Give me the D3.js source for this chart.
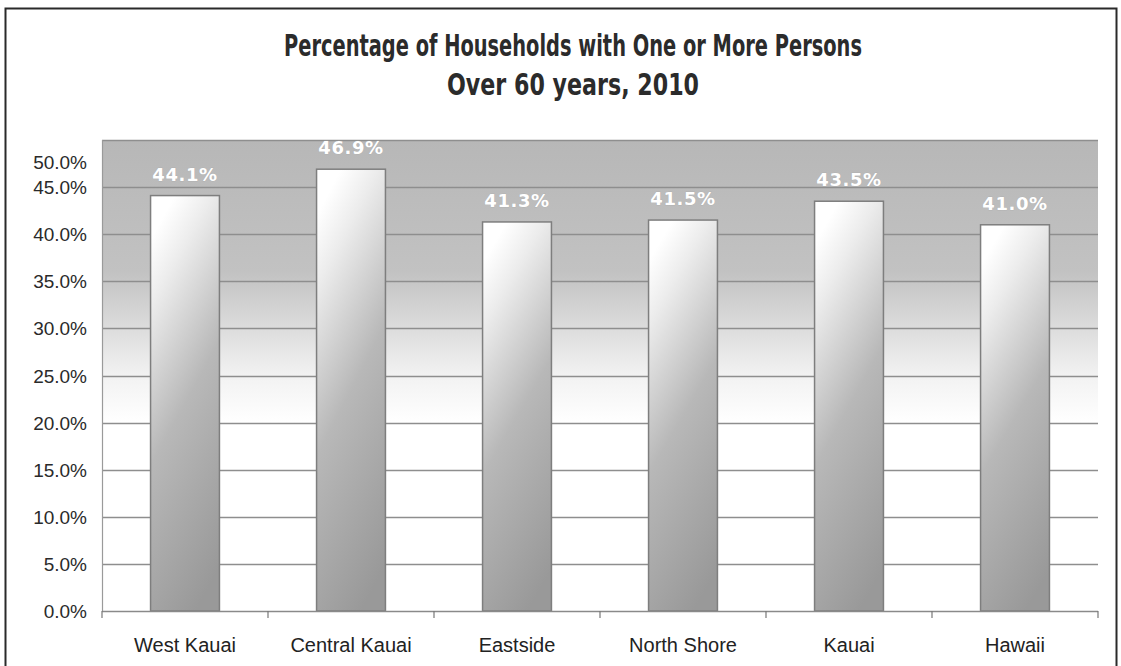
<!DOCTYPE html>
<html>
<head>
<meta charset="utf-8">
<script src="https://cdn.jsdelivr.net/npm/d3@7"></script>
<style>
  html, body { margin: 0; padding: 0; background: #fff; }
  svg { display: block; }
</style>
</head>
<body>
<svg id="chart" width="1121" height="666"></svg>
<script>
// Share of households with one or more persons over 60, 2010
const regions = ["West Kauai", "Central Kauai", "Eastside", "North Shore", "Kauai", "Hawaii"];
const shares = [44.1, 46.9, 41.3, 41.5, 43.5, 41.0];
const yTicks = [0, 5, 10, 15, 20, 25, 30, 35, 40, 45, 50];
const titleLines = ["Percentage of Households with One or More Persons", "Over 60 years, 2010"];

const W = 1121, H = 666;
const margin = { top: 140, right: 23, bottom: 55, left: 102 };
const plotW = W - margin.left - margin.right;
const plotH = H - margin.top - margin.bottom;

const svg = d3.select("#chart");
const defs = svg.append("defs");

// plot background: grey band at top fading to white
const bgGrad = defs.append("linearGradient")
  .attr("id", "bgGrad").attr("x1", 0).attr("y1", 0).attr("x2", 0).attr("y2", 1);
bgGrad.append("stop").attr("offset", "0%").attr("stop-color", "#b7b7b7");
bgGrad.append("stop").attr("offset", "28%").attr("stop-color", "#c2c2c2");
bgGrad.append("stop").attr("offset", "50%").attr("stop-color", "#f2f2f2");
bgGrad.append("stop").attr("offset", "60%").attr("stop-color", "#ffffff");
bgGrad.append("stop").attr("offset", "100%").attr("stop-color", "#ffffff");

// bar fill: near white at the top, grey toward the base
const barGrad = defs.append("linearGradient")
  .attr("id", "barGrad").attr("x1", 0.35).attr("y1", 0).attr("x2", 0.65).attr("y2", 1);
barGrad.append("stop").attr("offset", "0%").attr("stop-color", "#ffffff");
barGrad.append("stop").attr("offset", "15%").attr("stop-color", "#ececec");
barGrad.append("stop").attr("offset", "50%").attr("stop-color", "#b8b8b8");
barGrad.append("stop").attr("offset", "100%").attr("stop-color", "#999999");

// outer frame
svg.append("rect")
  .attr("x", 5.5).attr("y", 8.5).attr("width", 1111).attr("height", 680)
  .attr("fill", "none").attr("stroke", "#2a2a2a").attr("stroke-width", 2);

// title
const title = svg.append("g").attr("font-family", "'Liberation Sans Narrow', 'DejaVu Sans Condensed', sans-serif")
  .attr("font-weight", "bold").attr("fill", "#2b2b2b").attr("text-anchor", "middle");
title.append("text").attr("x", 573).attr("y", 56).attr("font-size", 30)
  .attr("textLength", 578).attr("lengthAdjust", "spacingAndGlyphs").text(titleLines[0]);
title.append("text").attr("x", 573).attr("y", 95).attr("font-size", 30)
  .attr("textLength", 252).attr("lengthAdjust", "spacingAndGlyphs").text(titleLines[1]);

const g = svg.append("g").attr("transform", `translate(${margin.left},${margin.top})`);

const x = d3.scaleBand().domain(regions).range([0, plotW]).paddingInner(0.585).paddingOuter(0.2925);
const y = d3.scaleLinear().domain([0, 50]).range([plotH, 0]);

g.append("rect").attr("x", 0).attr("y", 0).attr("width", plotW).attr("height", plotH)
  .attr("fill", "url(#bgGrad)");

// gridlines
g.append("g").selectAll("line").data(yTicks.filter(d => d > 0)).join("line")
  .attr("x1", 0).attr("x2", plotW)
  .attr("y1", d => Math.round(y(d)) + 0.5).attr("y2", d => Math.round(y(d)) + 0.5)
  .attr("stroke", "#8e8e8e").attr("stroke-width", 1.6);

// y axis labels (top label kept clear of the plot edge)
const yAxis = g.append("g").attr("font-family", "'Liberation Sans', Arial, sans-serif")
  .attr("font-size", 19).attr("fill", "#2a2a2a").attr("text-anchor", "end");
yAxis.selectAll("text").data(yTicks).join("text")
  .attr("x", -15)
  .attr("y", d => Math.max(y(d), 22) + 7)
  .text(d => d3.format(".1f")(d) + "%");

// y axis line
g.append("line").attr("x1", 0.5).attr("x2", 0.5).attr("y1", 0).attr("y2", plotH)
  .attr("stroke", "#9a9a9a").attr("stroke-width", 1.2);

// bars
g.append("g").selectAll("rect").data(regions).join("rect")
  .attr("x", d => x(d)).attr("width", x.bandwidth())
  .attr("y", (d, i) => y(shares[i])).attr("height", (d, i) => plotH - y(shares[i]))
  .attr("fill", "url(#barGrad)").attr("stroke", "#7e7e7e").attr("stroke-width", 1.5);

// x axis line and category ticks
g.append("line").attr("x1", 0).attr("x2", plotW).attr("y1", plotH + 0.5).attr("y2", plotH + 0.5)
  .attr("stroke", "#8a8a8a").attr("stroke-width", 1.5);
const bounds = regions.map(d => x(d) - x.step() * x.paddingInner() / 2).concat([plotW]);
g.append("g").selectAll("line").data(bounds).join("line")
  .attr("x1", d => d).attr("x2", d => d).attr("y1", plotH).attr("y2", plotH + 7)
  .attr("stroke", "#777").attr("stroke-width", 1.2);

// category labels
g.append("g").attr("font-family", "'Liberation Sans', Arial, sans-serif").attr("font-size", 20)
  .attr("fill", "#222").attr("text-anchor", "middle")
  .selectAll("text").data(regions).join("text")
  .attr("x", d => x(d) + x.bandwidth() / 2).attr("y", plotH + 41)
  .text(d => d);

// value labels
g.append("g").attr("font-family", "'DejaVu Sans', sans-serif").attr("font-weight", "bold")
  .attr("font-size", 18).attr("letter-spacing", 0.6).attr("text-anchor", "middle")
  .selectAll("text").data(regions).join("text")
  .attr("x", d => x(d) + x.bandwidth() / 2)
  .attr("y", (d, i) => y(shares[i]) - 15)
  .attr("fill", "#ffffff").attr("stroke", "#a8a8a8").attr("stroke-width", 0.5)
  .attr("paint-order", "stroke")
  .text((d, i) => d3.format(".1f")(shares[i]) + "%");
</script>
</body>
</html>
